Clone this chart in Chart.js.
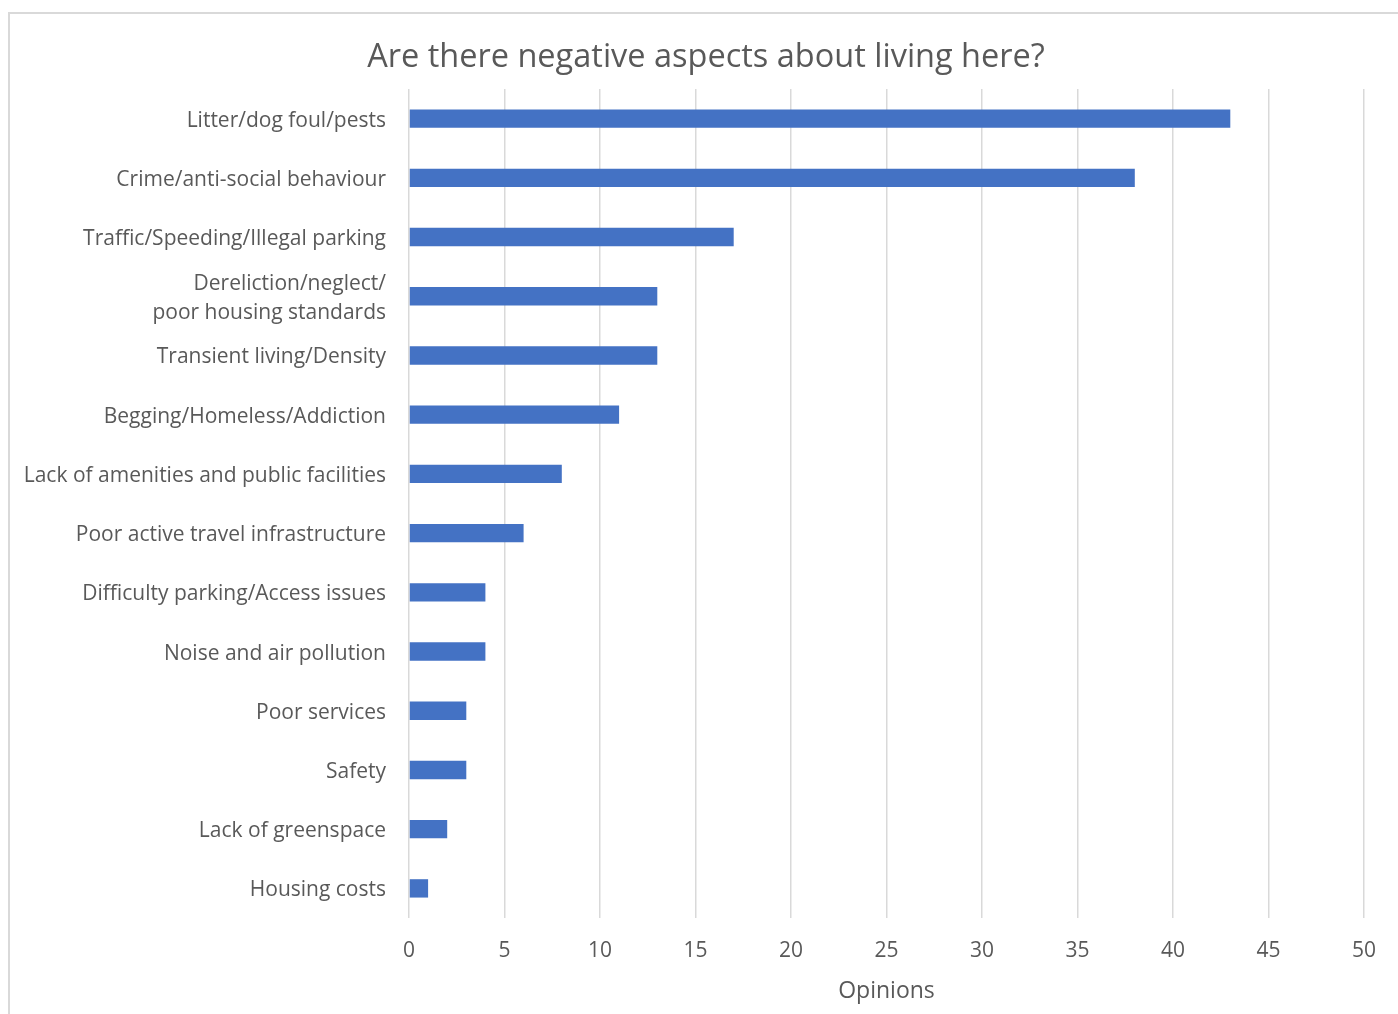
<!DOCTYPE html>
<html>
<head>
    <title>Negative aspects</title>
    <script src="https://cdn.jsdelivr.net/npm/chart.js"></script>
    <style>
        html, body { margin: 0; padding: 0; background: #fff; overflow: hidden; }
        #frame { position: absolute; left: 8px; top: 12px; width: 1420px; height: 1040px; border: 2px solid #d9d9d9; box-sizing: border-box; }
        #wrap { position: absolute; left: 8px; top: 12px; width: 1396px; height: 1002px; }
    </style>
</head>
<body>
    <div id="frame"></div>
    <div id="wrap"><canvas id="negChart" width="1396" height="1002"></canvas></div>

    <script>
        // data
        const categories = [
            'Litter/dog foul/pests',
            'Crime/anti-social behaviour',
            'Traffic/Speeding/Illegal parking',
            ['Dereliction/neglect/', 'poor housing standards'],
            'Transient living/Density',
            'Begging/Homeless/Addiction',
            'Lack of amenities and public facilities',
            'Poor active travel infrastructure',
            'Difficulty parking/Access issues',
            'Noise and air pollution',
            'Poor services',
            'Safety',
            'Lack of greenspace',
            'Housing costs'
        ];
        const opinions = [43, 38, 17, 13, 13, 11, 8, 6, 4, 4, 3, 3, 2, 1];
        const xMin = 0, xMax = 50, xStep = 5;

        const textColor = '#595959';
        const fontFamily = '"Open Sans", Lato, sans-serif';

        const ctx = document.getElementById('negChart').getContext('2d');
        const chart = new Chart(ctx, {
            type: 'bar',
            data: {
                labels: categories,
                datasets: [{
                    label: 'Opinions',
                    data: opinions,
                    backgroundColor: '#4472c4',
                    borderWidth: 0,
                    categoryPercentage: 1,
                    barPercentage: 0.31
                }]
            },
            options: {
                indexAxis: 'y',
                responsive: false,
                animation: false,
                layout: { padding: { left: 0, right: 0, top: 0, bottom: 5 } },
                plugins: {
                    legend: { display: false },
                    tooltip: { enabled: false },
                    title: {
                        display: true,
                        text: 'Are there negative aspects about living here?',
                        color: textColor,
                        font: { family: fontFamily, size: 32.5, weight: 'normal' },
                        padding: { top: 26, bottom: 12 }
                    }
                },
                scales: {
                    x: {
                        min: xMin,
                        max: xMax,
                        ticks: {
                            stepSize: xStep,
                            color: textColor,
                            padding: 20,
                            font: { family: fontFamily, size: 21 }
                        },
                        grid: { color: '#d9d9d9', lineWidth: 1.5, drawTicks: false },
                        border: { display: false },
                        title: {
                            display: true,
                            text: 'Opinions',
                            color: textColor,
                            font: { family: fontFamily, size: 23 }
                        },
                        afterFit: function (scale) { scale.height = 91; }
                    },
                    y: {
                        ticks: {
                            autoSkip: false,
                            color: textColor,
                            padding: 23,
                            labelOffset: 2,
                            font: { family: fontFamily, size: 21, lineHeight: 1.4 }
                        },
                        grid: { display: false, drawTicks: false },
                        border: { display: false },
                        afterFit: function (scale) { scale.width = 401; }
                    },
                    // empty right-hand strip, keeps the plot off the right edge
                    pad: {
                        type: 'category',
                        position: 'right',
                        ticks: { display: false },
                        grid: { display: false, drawTicks: false },
                        border: { display: false },
                        afterFit: function (scale) { scale.width = 40; }
                    }
                }
            }
        });
    </script>
</body>
</html>
